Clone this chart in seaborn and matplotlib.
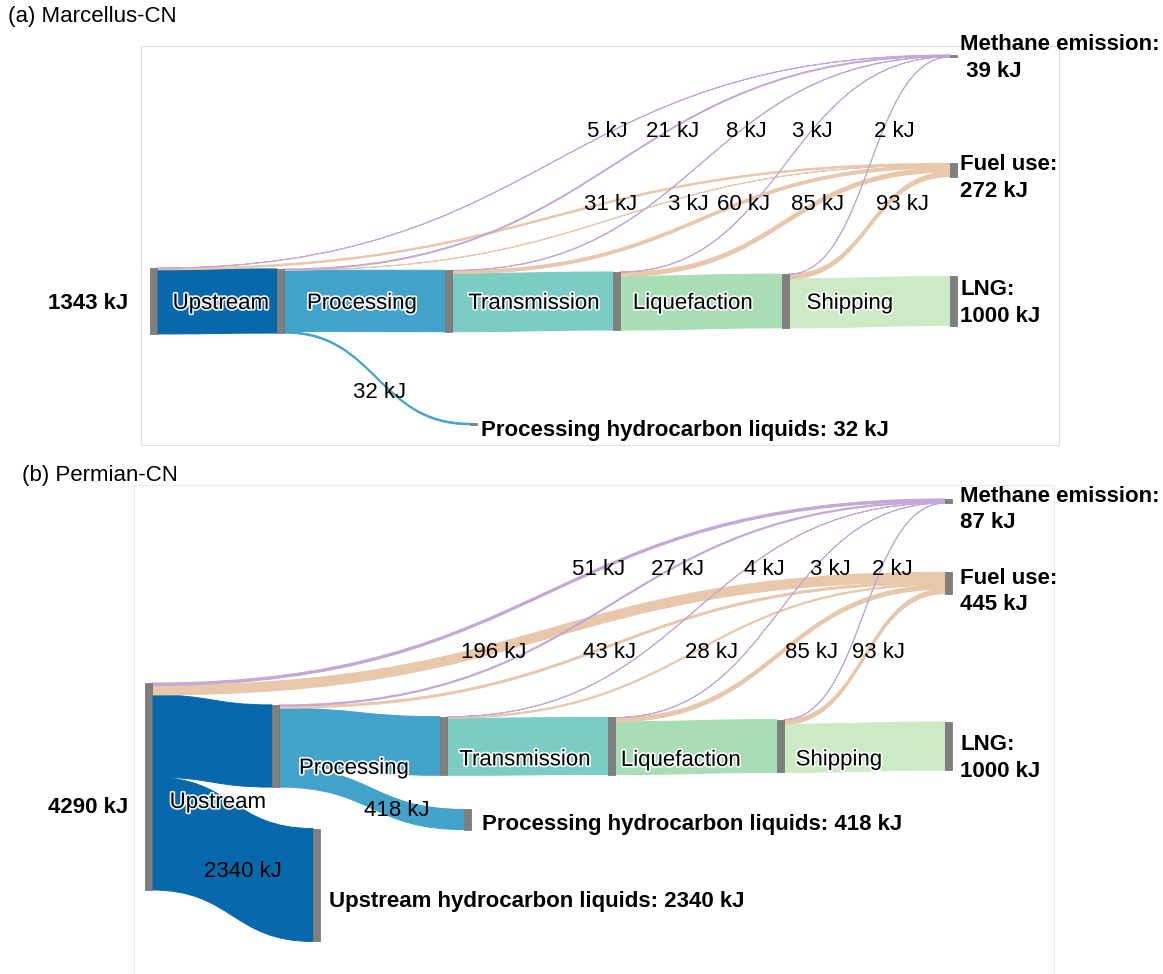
import matplotlib
matplotlib.use("Agg")
import matplotlib.pyplot as plt
from matplotlib.path import Path
from matplotlib.patches import PathPatch, Rectangle
import matplotlib.patheffects as pe
import seaborn as sns

sns.set_theme(style="white")
plt.rcParams["font.family"] = ["Liberation Sans", "DejaVu Sans"]

# ---------------------------------------------------------------- data (kJ)
stages = ["Upstream", "Processing", "Transmission", "Liquefaction", "Shipping"]

marcellus_total = 1343
marcellus_methane = [5, 21, 8, 3, 2]
marcellus_fuel = [31, 3, 60, 85, 93]
marcellus_liquids = [0, 32, 0, 0, 0]
marcellus_lng = 1000

permian_total = 4290
permian_methane = [51, 27, 4, 3, 2]
permian_fuel = [196, 43, 28, 85, 93]
permian_liquids = [2340, 418, 0, 0, 0]
permian_lng = 1000

# ---------------------------------------------------------------- styling
stage_colors = sns.color_palette(["#0868ac", "#43a2ca", "#7bccc4", "#a8ddb5", "#ccebc5"])
methane_color = "#c4a8d6"
fuel_color = "#e8c7aa"
node_color = "#7f7f7f"
FS = 16
CAP = 7.9  # half cap-height in pixels at FS

W, H = 1163, 974
fig = plt.figure(figsize=(W / 100, H / 100), dpi=100)
ax = fig.add_axes([0, 0, 1, 1])
ax.set_xlim(0, W)
ax.set_ylim(H, 0)
ax.axis("off")


def put(x, ycap, s, ha="left", bold=False, halo=False):
    t = ax.text(x, ycap + CAP, s, ha=ha, va="baseline", fontsize=FS,
                fontweight="bold" if bold else "normal", color="black", zorder=10)
    if halo:
        t.set_path_effects([pe.withStroke(linewidth=2.5, foreground="white", alpha=0.9)])
    return t


def band(x0, y0a, y0b, x1, y1a, y1b, color, z):
    xm = (x0 + x1) / 2
    verts = [(x0, y0a), (xm, y0a), (xm, y1a), (x1, y1a), (x1, y1b),
             (xm, y1b), (xm, y0b), (x0, y0b), (x0, y0a)]
    codes = [Path.MOVETO, Path.CURVE4, Path.CURVE4, Path.CURVE4, Path.LINETO,
             Path.CURVE4, Path.CURVE4, Path.CURVE4, Path.CLOSEPOLY]
    ax.add_patch(PathPatch(Path(verts, codes), facecolor=color, edgecolor=color,
                           lw=0.7, zorder=z))


def sankey(total, methane, fuel, liquids, lng, lay):
    s = lay["scale"]
    w = lay["node_w"]
    n = len(stages)
    # stage boundary nodes S0..S5, then sinks
    nodes = {}
    for i in range(n + 1):
        nodes[f"S{i}"] = dict(x=lay["col_x"][i], cy=lay["chain_cy"][i])
    nodes["M"] = dict(x=lay["sink_x"], cy=lay["methane_cy"])
    nodes["F"] = dict(x=lay["sink_x"], cy=lay["fuel_cy"])
    for i, v in enumerate(liquids):
        if v:
            nodes[f"L{i}"] = dict(x=lay["liq_x"][i], cy=lay["liq_cy"][i])

    links = []
    remaining = total
    for i in range(n):
        out = remaining - methane[i] - fuel[i] - liquids[i]
        links.append((f"S{i}", f"S{i+1}", out, stage_colors[i], 1))
        links.append((f"S{i}", "M", methane[i], methane_color, 3))
        links.append((f"S{i}", "F", fuel[i], fuel_color, 2))
        if liquids[i]:
            links.append((f"S{i}", f"L{i}", liquids[i], stage_colors[i], 1))
        remaining = out

    for k, nd in nodes.items():
        vin = sum(l[2] for l in links if l[1] == k)
        vout = sum(l[2] for l in links if l[0] == k)
        nd["h"] = max(vin, vout) * s
        nd["top"] = nd["cy"] - nd["h"] / 2

    pos_out, pos_in = {}, {}
    for k, nd in nodes.items():
        outs = sorted([l for l in links if l[0] == k], key=lambda l: nodes[l[1]]["top"])
        y = nd["top"]
        for l in outs:
            pos_out[(l[0], l[1])] = y
            y += l[2] * s
        ins = sorted([l for l in links if l[1] == k], key=lambda l: nodes[l[0]]["top"])
        y = nd["top"]
        for l in ins:
            pos_in[(l[0], l[1])] = y
            y += l[2] * s

    for src, tgt, v, c, z in links:
        y0 = pos_out[(src, tgt)]
        y1 = pos_in[(src, tgt)]
        band(nodes[src]["x"] + w, y0, y0 + v * s, nodes[tgt]["x"], y1, y1 + v * s, c, z)

    for nd in nodes.values():
        ax.add_patch(Rectangle((nd["x"], nd["top"]), w, nd["h"], facecolor=node_color,
                               edgecolor="#6e6e6e", lw=0.5, zorder=5))

    # text
    put(lay["total_xy"][0], lay["total_xy"][1], f"{total} kJ", ha="right", bold=True)
    for i, name in enumerate(stages):
        put(lay["stage_x"][i], lay["stage_y"][i], name, ha="center", halo=True)
        put(lay["methane_lbl_x"][i], lay["methane_lbl_y"], f"{methane[i]} kJ", ha="center")
        put(lay["fuel_lbl_x"][i], lay["fuel_lbl_y"], f"{fuel[i]} kJ", ha="center")
        if liquids[i]:
            lx, ly = lay["liq_lbl"][i]
            put(lx, ly, f"{liquids[i]} kJ", ha="center")
            nx, ny = lay["liq_name"][i]
            put(nx, ny, f"{stages[i]} hydrocarbon liquids: {liquids[i]} kJ", bold=True)

    rx = lay["right_x"]
    for (y1, y2), l1, l2 in [(lay["methane_txt"], "Methane emission:", lay["methane_val_fmt"].format(sum(methane))),
                             (lay["fuel_txt"], "Fuel use:", f"{sum(fuel)} kJ"),
                             (lay["lng_txt"], "LNG:", f"{lng} kJ")]:
        put(rx, y1, l1, bold=True)
        put(rx, y2, l2, bold=True)


layout_a = dict(
    scale=0.0491, node_w=7,
    col_x=[150, 277, 445, 613, 782, 950], chain_cy=[301] * 6,
    sink_x=950, methane_cy=56, fuel_cy=170,
    liq_x=[None, 470], liq_cy=[None, 424],
    total_xy=(128, 301),
    stage_x=[221, 362, 534, 693, 850], stage_y=[301] * 5,
    methane_lbl_x=[607, 673, 746, 812, 894], methane_lbl_y=129,
    fuel_lbl_x=[611, 688, 744, 818, 903], fuel_lbl_y=202,
    liq_lbl=[None, (380, 390)], liq_name=[None, (481, 428)],
    right_x=960, methane_txt=(42.5, 69.5), methane_val_fmt=" {} kJ",
    fuel_txt=(162.5, 189.5), lng_txt=(287, 314.5),
)

layout_b = dict(
    scale=0.04825, node_w=7,
    col_x=[145, 272, 440, 608, 777, 945], chain_cy=[786.5, 746, 746, 746, 746, 746],
    sink_x=945, methane_cy=501, fuel_cy=583,
    liq_x=[313, 464], liq_cy=[885, 819.5],
    total_xy=(128, 805),
    stage_x=[218, 354, 525, 681, 839], stage_y=[800, 766, 757.5, 758, 757.5],
    methane_lbl_x=[599, 678, 764, 830, 892], methane_lbl_y=567,
    fuel_lbl_x=[494, 610, 712, 812, 879], fuel_lbl_y=650,
    liq_lbl=[(243, 869), (397, 808)], liq_name=[(329, 899), (482, 822)],
    right_x=960, methane_txt=(494.5, 520), methane_val_fmt="{} kJ",
    fuel_txt=(576, 602), lng_txt=(742.5, 769),
)

# panel frames and titles
ax.add_patch(Rectangle((141, 46), 918, 399, facecolor="none", edgecolor="#dedede", lw=0.8, zorder=0))
ax.add_patch(Rectangle((134, 485), 920, 520, facecolor="none", edgecolor="#ececec", lw=0.8, zorder=0))
put(8, 14.5, "(a) Marcellus-CN")
put(22, 473, "(b) Permian-CN")

sankey(marcellus_total, marcellus_methane, marcellus_fuel, marcellus_liquids, marcellus_lng, layout_a)
sankey(permian_total, permian_methane, permian_fuel, permian_liquids, permian_lng, layout_b)

fig.savefig("out.png", dpi=100, facecolor="white")
